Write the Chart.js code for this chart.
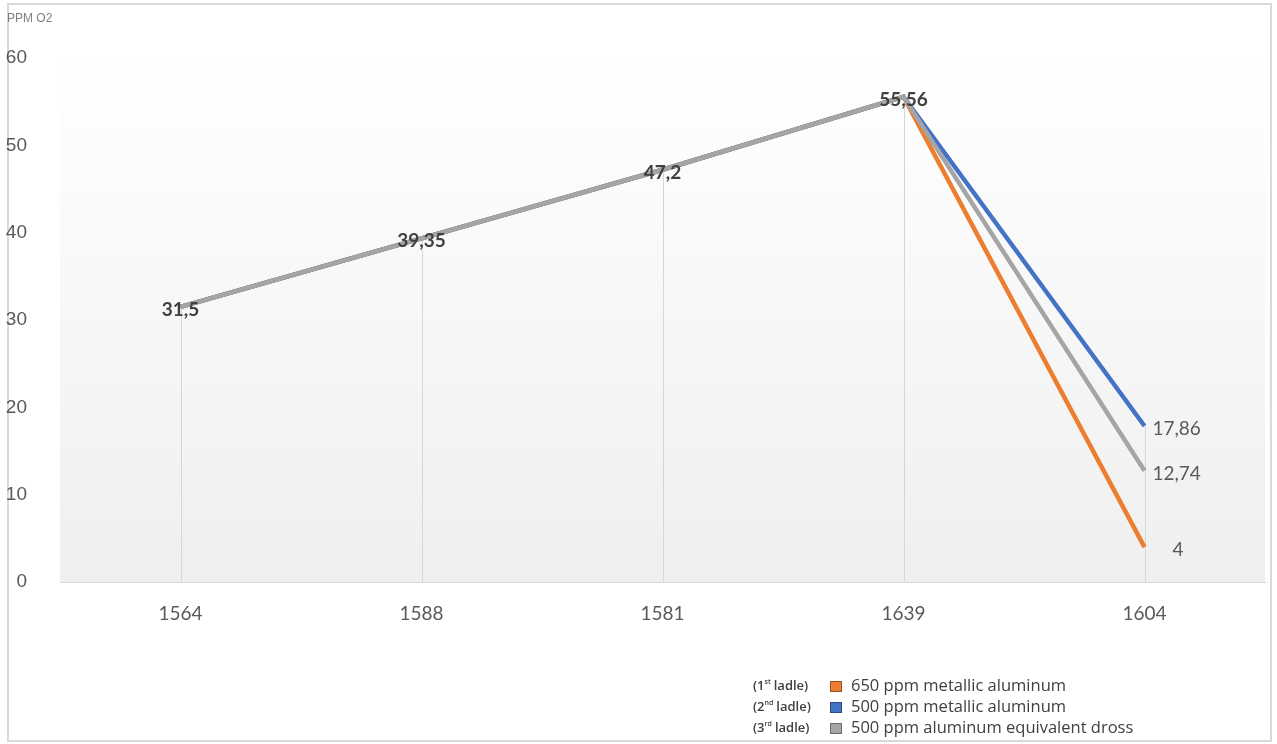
<!DOCTYPE html>
<html>
<head>
<meta charset="utf-8">
<script src="https://cdn.jsdelivr.net/npm/chart.js@4.4.1/dist/chart.umd.min.js"></script>
<style>
  html, body { margin: 0; padding: 0; background: #ffffff; }
  #wrap { width: 1277px; height: 744px; position: relative; }
</style>
</head>
<body>
<div id="wrap"><canvas id="c" width="1277" height="744"></canvas></div>
<script>
// Tapping measurements: dissolved oxygen per heat
const categories = ['1564', '1588', '1581', '1639', '1604'];
const ladle1 = [31.5, 39.35, 47.2, 55.56, 4];      // 650 ppm metallic aluminum
const ladle2 = [31.5, 39.35, 47.2, 55.56, 17.86];  // 500 ppm metallic aluminum
const ladle3 = [31.5, 39.35, 47.2, 55.56, 12.74];  // 500 ppm aluminum equivalent dross
const yTicks = [0, 10, 20, 30, 40, 50, 60];
const legendOrdinals = ['1', '2', '3'];
const legendSuffixes = ['st', 'nd', 'rd'];
const legendNames = ['650 ppm metallic aluminum', '500 ppm metallic aluminum', '500 ppm aluminum equivalent dross'];
const seriesColors = ['#ed7d31', '#4472c4', '#a5a5a5'];
const axisTitle = 'PPM O2';

const fmt = v => String(v).replace('.', ',');

const backdrop = {
  id: 'backdrop',
  beforeDraw(chart) {
    const { ctx, chartArea: a } = chart;
    ctx.save();
    const g = ctx.createLinearGradient(0, a.top, 0, a.bottom);
    g.addColorStop(0, '#ffffff');
    g.addColorStop(1, '#efefef');
    ctx.fillStyle = g;
    ctx.fillRect(a.left, a.top, a.right - a.left, a.bottom - a.top);
    // outer frame
    ctx.strokeStyle = '#d9d9d9';
    ctx.lineWidth = 2;
    ctx.strokeRect(8, 4, 1263, 737);
    // axis title
    ctx.fillStyle = '#808080';
    ctx.font = '12px "Liberation Sans", Arial, sans-serif';
    ctx.textBaseline = 'middle';
    ctx.textAlign = 'left';
    ctx.fillText(axisTitle, 7, 19);
    ctx.restore();
  },
  beforeDatasetsDraw(chart) {
    // drop lines from the highest value of each category to the axis
    const { ctx, scales: { x, y } } = chart;
    ctx.save();
    ctx.strokeStyle = '#d6d6d6';
    ctx.lineWidth = 1;
    categories.forEach((c, i) => {
      const top = Math.max(...chart.data.datasets.map(d => d.data[i]));
      const px = Math.round(x.getPixelForValue(i)) + 0.5;
      ctx.beginPath();
      ctx.moveTo(px, y.getPixelForValue(top));
      ctx.lineTo(px, y.getPixelForValue(0));
      ctx.stroke();
    });
    ctx.restore();
  }
};

const valueLabels = {
  id: 'valueLabels',
  afterDatasetsDraw(chart) {
    const { ctx, scales: { x, y } } = chart;
    ctx.save();
    ctx.textBaseline = 'middle';
    // shared points: one centred label each
    const shared = chart.data.datasets[2].data;
    ctx.font = 'bold 19px Lato, "Liberation Sans", sans-serif';
    ctx.fillStyle = '#404040';
    ctx.textAlign = 'center';
    for (let i = 0; i < shared.length - 1; i++) {
      ctx.fillText(fmt(shared[i]), x.getPixelForValue(i), y.getPixelForValue(shared[i]) + 3);
    }
    // last category: one label per series, to the right
    const last = shared.length - 1;
    ctx.font = '19px Lato, "Liberation Sans", sans-serif';
    ctx.fillStyle = '#595959';
    ctx.textAlign = 'left';
    const offsets = [28, 8, 8];
    chart.data.datasets.forEach((d, k) => {
      const v = d.data[last];
      ctx.fillText(fmt(v), x.getPixelForValue(last) + offsets[k], y.getPixelForValue(v) + 3);
    });
    ctx.restore();
  }
};

const ladleLegend = {
  id: 'ladleLegend',
  afterDraw(chart) {
    const { ctx } = chart;
    ctx.save();
    ctx.textBaseline = 'middle';
    legendNames.forEach((name, i) => {
      const cy = 686 + i * 21;
      let px = 753;
      ctx.fillStyle = '#404040';
      ctx.textAlign = 'left';
      ctx.font = '600 13px "Open Sans", "Liberation Sans", sans-serif';
      ctx.fillText('(' + legendOrdinals[i], px, cy);
      px += ctx.measureText('(' + legendOrdinals[i]).width;
      ctx.font = '600 7px "Open Sans", "Liberation Sans", sans-serif';
      ctx.fillText(legendSuffixes[i], px, cy - 4);
      px += ctx.measureText(legendSuffixes[i]).width + 3;
      ctx.font = '600 13px "Open Sans", "Liberation Sans", sans-serif';
      ctx.fillText('ladle)', px, cy);
      // swatch
      ctx.fillStyle = seriesColors[i];
      ctx.fillRect(830, cy - 5, 12, 11);
      ctx.strokeStyle = 'rgba(0,0,0,0.35)';
      ctx.lineWidth = 1;
      ctx.strokeRect(830.5, cy - 4.5, 11, 10);
      // series name
      ctx.fillStyle = '#404040';
      ctx.font = '16.5px "Open Sans", "Liberation Sans", sans-serif';
      ctx.fillText(name, 851, cy);
    });
    ctx.restore();
  }
};

// gray series is drawn on top of the shared segment (lowest order wins)
const mkSet = (label, data, color, order) => ({
  label, data, order,
  borderColor: color,
  backgroundColor: color,
  borderWidth: 4.5,
  pointRadius: 0,
  pointHoverRadius: 0,
  tension: 0,
  fill: false
});

new Chart(document.getElementById('c'), {
  type: 'line',
  data: {
    labels: categories,
    datasets: [
      mkSet(legendNames[0], ladle1, seriesColors[0], 2),
      mkSet(legendNames[1], ladle2, seriesColors[1], 1),
      mkSet(legendNames[2], ladle3, seriesColors[2], 0)
    ]
  },
  options: {
    responsive: false,
    animation: false,
    layout: { padding: { top: 58, right: 12, bottom: 0, left: 0 } },
    plugins: {
      legend: { display: false },
      tooltip: { enabled: false }
    },
    scales: {
      x: {
        offset: true,
        grid: { display: false, offset: true },
        border: { display: true, color: '#d9d9d9', width: 1 },
        ticks: {
          color: '#595959',
          padding: 12,
          font: { family: 'Lato, "Liberation Sans", sans-serif', size: 19 }
        },
        afterFit(s) { s.height = 162; }
      },
      y: {
        min: 0,
        max: 60,
        afterBuildTicks(s) { s.ticks = yTicks.map(v => ({ value: v })); },
        grid: { display: false },
        border: { display: false },
        ticks: {
          color: '#595959',
          padding: 25,
          font: { family: '"Liberation Sans", Arial, sans-serif', size: 19 }
        },
        afterFit(s) { s.width = 60; }
      }
    }
  },
  plugins: [backdrop, valueLabels, ladleLegend]
});
</script>
</body>
</html>
